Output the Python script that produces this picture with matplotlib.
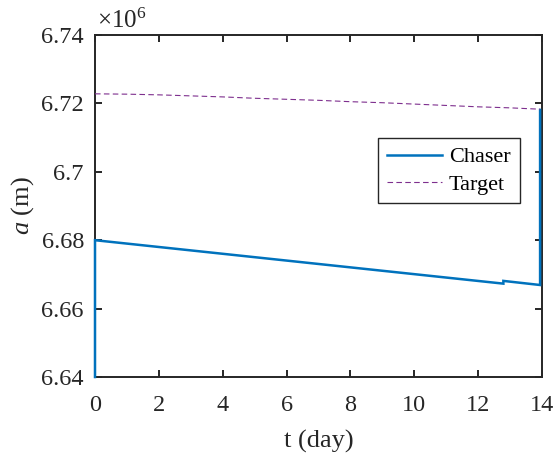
import matplotlib
matplotlib.use("Agg")
import matplotlib.pyplot as plt
from matplotlib.ticker import FuncFormatter

plt.rcParams["font.family"] = ["Liberation Serif", "DejaVu Serif"]
plt.rcParams["mathtext.fontset"] = "custom"
plt.rcParams["mathtext.rm"] = "Liberation Serif"
plt.rcParams["mathtext.it"] = "Liberation Serif:italic"

# Semi-major axis histories (t in days, a in metres)
chaser_t = [0.0, 0.0, 12.79, 12.79, 13.94, 13.94]
chaser_a = [6.640e6, 6.6800e6, 6.6673e6, 6.6681e6, 6.6669e6, 6.7181e6]

target_t = [0.0, 1.0, 2.0, 3.0, 4.0, 5.0, 6.0, 7.0, 8.0, 9.0, 10.0, 11.0, 12.0, 13.0, 13.94]
target_a = [6.7228e6, 6.7227e6, 6.7225e6, 6.7222e6, 6.7219e6, 6.7215e6, 6.7212e6,
            6.7209e6, 6.7205e6, 6.7202e6, 6.7198e6, 6.7194e6, 6.7190e6, 6.7187e6, 6.7183e6]

x_ticks = [0, 2, 4, 6, 8, 10, 12, 14]
y_ticks = [6.64e6, 6.66e6, 6.68e6, 6.70e6, 6.72e6, 6.74e6]

fig = plt.figure(figsize=(5.57, 4.59), dpi=100)
ax = fig.add_axes([95 / 557, 82 / 459, 447 / 557, 342 / 459])

ax.plot(chaser_t, chaser_a, color="#0072BD", lw=1.8, label="Chaser",
        solid_joinstyle="miter", zorder=3, clip_on=False)
ax.plot(target_t, target_a, color="#7E2F8E", lw=0.8, ls=(0, (5, 3)), label="Target", zorder=3)

ax.set_xlim(0, 14)
ax.set_ylim(6.64e6, 6.74e6)
ax.set_xticks(x_ticks)
ax.set_yticks(y_ticks)
ax.yaxis.set_major_formatter(FuncFormatter(lambda v, p: f"{v / 1e6:g}"))

for s in ax.spines.values():
    s.set_color("#262626")
    s.set_linewidth(1.4)
    s.set_zorder(2.5)
ax.tick_params(direction="in", top=True, right=True, length=5, width=1.4,
               color="#262626", labelsize=17.5, labelcolor="#262626", pad=8)
ax.tick_params(axis="x", pad=13)

ax.set_xlabel("t (day)", fontsize=19, color="#262626", labelpad=10)
ax.set_ylabel("$a$ (m)", fontsize=19, color="#262626", labelpad=4)

ax.text(0.005, 1.02, r"$\times10^{6}$", transform=ax.transAxes, fontsize=18,
        color="#262626", ha="left", va="baseline")

leg = ax.legend(loc="upper left", bbox_to_anchor=(0.633, 0.699), borderaxespad=0,
                fontsize=16, fancybox=False, framealpha=1, edgecolor="#262626",
                handlelength=2.5, handletextpad=0.3, borderpad=0.4, labelspacing=0.3)
leg.get_frame().set_linewidth(1.0)

fig.savefig("out.png", dpi=100)
